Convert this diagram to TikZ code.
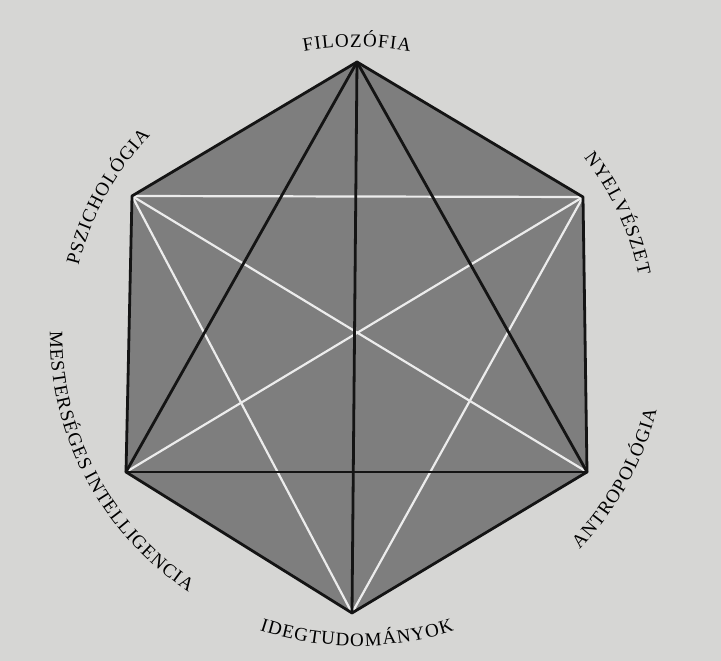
\documentclass[tikz,border=0pt]{standalone}
\usepackage{fontspec}
\setmainfont{Liberation Serif}
\usetikzlibrary{decorations.text}
\definecolor{paper}{RGB}{214,214,212}
\definecolor{hexfill}{RGB}{126,126,126}
\definecolor{ink}{RGB}{20,20,20}
\definecolor{chalk}{RGB}{236,236,236}
\newcommand\lsk{\kern1.1pt}
\begin{document}
\begin{tikzpicture}[x=1pt,y=1pt,
  blackline/.style={draw=ink,line width=2.8pt,line join=round,line cap=round},
  whiteline/.style={draw=chalk,line width=2.2pt,line cap=round},
  arclabel/.style={decorate,decoration={text along path,text align=center,text={#1}}},
]
\fill[paper] (0,0) rectangle (721,661);
\useasboundingbox (0,0) rectangle (721,661);
\fontsize{19}{22}\selectfont
\coordinate (C) at (357,326);
\coordinate (T) at (357,599);
\coordinate (UL) at (132,465);
\coordinate (UR) at (583,464);
\coordinate (LL) at (126,189);
\coordinate (LR) at (587,189);
\coordinate (B) at (352,48);
% hexagon
\fill[hexfill] (T) -- (UR) -- (LR) -- (B) -- (LL) -- (UL) -- cycle;
% white lines
\draw[whiteline] (UL) -- (UR);
\draw[whiteline] (UL) -- (LR);
\draw[whiteline] (UR) -- (LL);
\draw[whiteline] (UL) -- (B);
\draw[whiteline] (UR) -- (B);
% black lines
\draw[blackline] (T) -- (LL);
\draw[blackline] (T) -- (LR);
\draw[blackline] (T) -- (B);
\draw[blackline] (LL) -- (LR);
\draw[blackline] (T) -- (UR) -- (LR) -- (B) -- (LL) -- (UL) -- cycle;
% labels (upper: clockwise, tops outward)
\path[shift={(C)},arclabel={F{\lsk}I{\lsk}L{\lsk}O{\lsk}Z{\lsk}Ó{\lsk}F{\lsk}I{\lsk}A}]
  (140:288) arc[start angle=140,end angle=40,radius=288];
\path[shift={(C)},arclabel={P{\lsk}S{\lsk}Z{\lsk}I{\lsk}C{\lsk}H{\lsk}O{\lsk}L{\lsk}Ó{\lsk}G{\lsk}I{\lsk}A}]
  (201:287) arc[start angle=201,end angle=101,radius=287];
\path[shift={(C)},arclabel={N{\lsk}Y{\lsk}E{\lsk}L{\lsk}V{\lsk}É{\lsk}S{\lsk}Z{\lsk}E{\lsk}T}]
  (75:288) arc[start angle=75,end angle=-25,radius=288];
% labels (lower: counterclockwise, tops inward)
\path[shift={(C)},arclabel={A{\lsk}N{\lsk}T{\lsk}R{\lsk}O{\lsk}P{\lsk}O{\lsk}L{\lsk}Ó{\lsk}G{\lsk}I{\lsk}A}]
  (-79:309) arc[start angle=-79,end angle=21,radius=309];
\path[shift={(C)},arclabel={I{\lsk}D{\lsk}E{\lsk}G{\lsk}T{\lsk}U{\lsk}D{\lsk}O{\lsk}M{\lsk}Á{\lsk}N{\lsk}Y{\lsk}O{\lsk}K}]
  (220:311) arc[start angle=220,end angle=320,radius=311];
\path[shift={(C)},arclabel={M{\lsk}E{\lsk}S{\lsk}T{\lsk}E{\lsk}R{\lsk}S{\lsk}É{\lsk}G{\lsk}E{\lsk}S{\lsk} I{\lsk}N{\lsk}T{\lsk}E{\lsk}L{\lsk}L{\lsk}I{\lsk}G{\lsk}E{\lsk}N{\lsk}C{\lsk}I{\lsk}A}]
  (148:307) arc[start angle=148,end angle=268,radius=307];
\end{tikzpicture}
\end{document}
